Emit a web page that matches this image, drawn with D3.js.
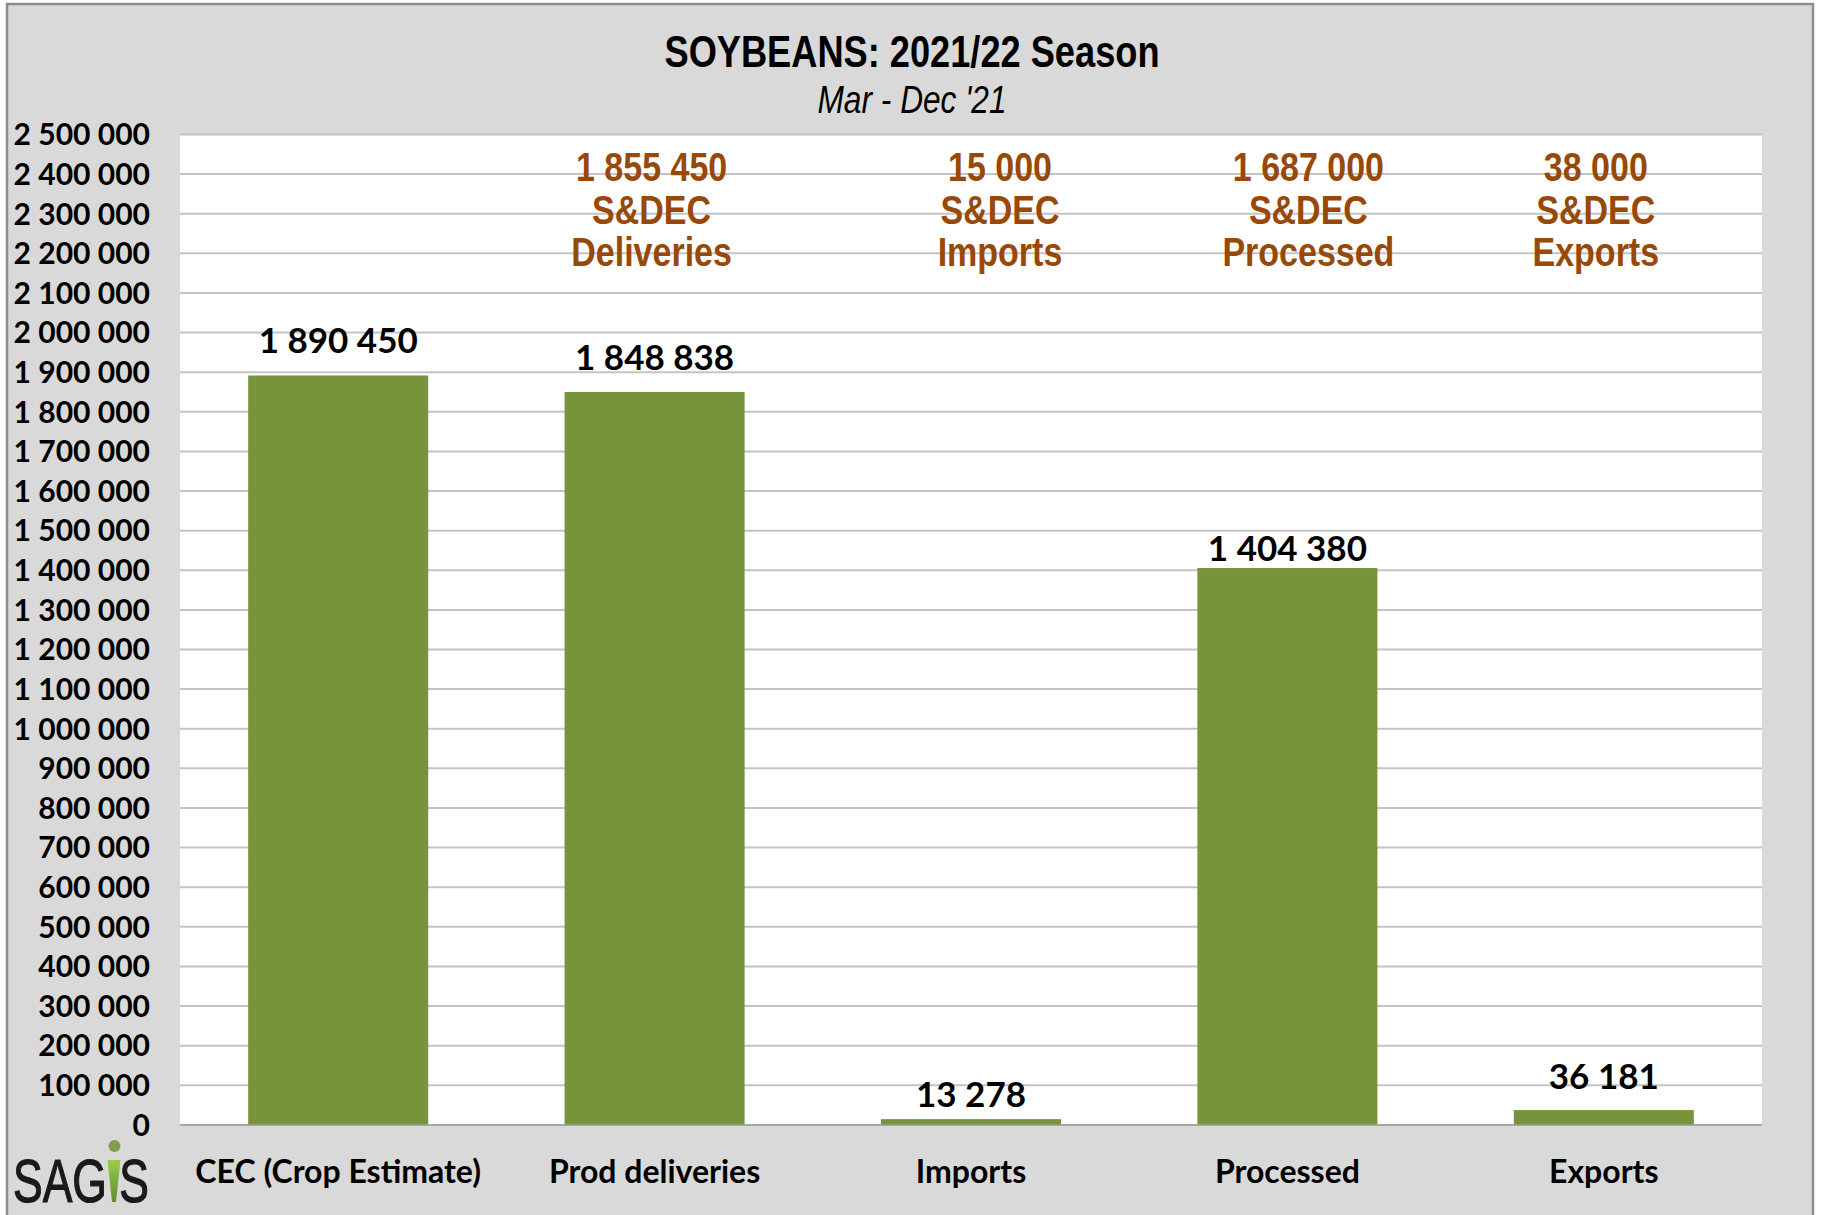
<!DOCTYPE html>
<html>
<head>
<meta charset="utf-8">
<script src="https://cdn.jsdelivr.net/npm/d3@7"></script>
<style>
  body { margin: 0; background: #ffffff; }
</style>
</head>
<body>
<script>
// ---------------------- data ---------------------
var categories = ["CEC (Crop Estimate)", "Prod deliveries", "Imports", "Processed", "Exports"];
var values = [1890450, 1848838, 13278, 1404380, 36181];

// brown S&DEC notes above the bars
var noteCategories = ["Prod deliveries", "Imports", "Processed", "Exports"];
var noteValues = [1855450, 15000, 1687000, 38000];
var noteNames = ["Deliveries", "Imports", "Processed", "Exports"];

var yTicks = [0, 100000, 200000, 300000, 400000, 500000, 600000, 700000, 800000, 900000,
              1000000, 1100000, 1200000, 1300000, 1400000, 1500000, 1600000, 1700000,
              1800000, 1900000, 2000000, 2100000, 2200000, 2300000, 2400000, 2500000];

// ---------------------- layout ---------------------
var W = 1825, H = 1215;
var plotLeft = 180, plotRight = 1762, plotTop = 134, plotBottom = 1124.4;
var narrow = "'Liberation Sans', Arial, sans-serif";   // squeezed below to look like Arial Narrow
var labelGap = [22, 22, 12, 7, 21];   // value label distance above bar top (as placed in the original)
var noteShift = [-3, 29, 21, -8];     // small horizontal nudge of the brown notes

var fmt = d3.formatLocale({ decimal: ".", thousands: " ", grouping: [3], currency: ["", ""] }).format(",");

var x = d3.scaleBand()
     .domain(categories)
     .range([plotLeft, plotRight])
     .paddingInner(0.431)
     .paddingOuter(0.2155);

var y = d3.scaleLinear()
     .domain([0, 2500000])
     .range([plotBottom, plotTop]);

var svg = d3.select("body")
     .append("svg")
     .attr("width", W)
     .attr("height", H);

// outer frame
svg.append("rect")
     .attr("x", 7)
     .attr("y", 4)
     .attr("width", 1806)
     .attr("height", H + 10)
     .style("fill", "#d9d9d9")
     .style("stroke", "#8c8c8c")
     .style("stroke-width", 2.5);

// plot area
svg.append("rect")
     .attr("x", plotLeft)
     .attr("y", plotTop)
     .attr("width", plotRight - plotLeft)
     .attr("height", plotBottom - plotTop)
     .style("fill", "#ffffff");

// ---------------------- grid + y axis ---------------------
var grid = svg.append("g")
     .attr("transform", "translate(" + plotLeft + ",0)")
     .call(d3.axisLeft(y).tickValues(yTicks).tickSize(-(plotRight - plotLeft)).tickFormat(""));
grid.select(".domain").remove();
grid.selectAll(".tick line")
     .style("stroke", function(d) { return d === 0 ? "#a6a6a6" : "#c4c4c4"; })
     .style("stroke-width", 2);

var yAxis = svg.append("g")
     .attr("transform", "translate(150,0)")
     .call(d3.axisLeft(y).tickValues(yTicks).tickSize(0).tickPadding(0).tickFormat(fmt));
yAxis.select(".domain").remove();
yAxis.selectAll("text")
     .attr("dy", "0.36em")
     .style("font-family", "Lato, sans-serif")
     .style("font-weight", "bold")
     .style("font-size", "30px")
     .style("fill", "#000");

// ---------------------- bars ---------------------
svg.selectAll("rect.bar")
     .data(values)
     .enter()
     .append("rect")
     .attr("class", "bar")
     .attr("x", function(d, i) { return x(categories[i]); })
     .attr("y", function(d) { return y(d); })
     .attr("width", x.bandwidth())
     .attr("height", function(d) { return y(0) - y(d); })
     .style("fill", "#77933c");

svg.selectAll("text.val")
     .data(values)
     .enter()
     .append("text")
     .attr("class", "val")
     .text(function(d) { return fmt(d); })
     .attr("x", function(d, i) { return x(categories[i]) + x.bandwidth() / 2; })
     .attr("y", function(d, i) { return y(d) - labelGap[i]; })
     .attr("text-anchor", "middle")
     .style("font-family", "Lato, sans-serif")
     .style("font-weight", "bold")
     .style("font-size", "35px")
     .style("fill", "#000");

// category labels
svg.selectAll("text.cat")
     .data(categories)
     .enter()
     .append("text")
     .attr("class", "cat")
     .text(function(d) { return d; })
     .attr("x", function(d) { return x(d) + x.bandwidth() / 2; })
     .attr("y", 1183)
     .attr("text-anchor", "middle")
     .style("font-family", "Lato, sans-serif")
     .style("font-weight", "bold")
     .style("font-size", "32px")
     .style("fill", "#000");

// ---------------------- S&DEC notes ---------------------
var notes = svg.selectAll("g.note")
     .data(noteValues)
     .enter()
     .append("g")
     .attr("class", "note")
     .attr("transform", function(d, i) {
          return "translate(" + (x(noteCategories[i]) + x.bandwidth() / 2 + noteShift[i]) + ",0) scale(0.85,1)";
     })
     .style("font-family", narrow)
     .style("font-weight", "bold")
     .style("font-size", "40px")
     .style("fill", "#984807")
     .attr("text-anchor", "middle");

notes.append("text").attr("y", 181).text(function(d) { return fmt(d); });
notes.append("text").attr("y", 224).text("S&DEC");
notes.append("text").attr("y", 266).text(function(d, i) { return noteNames[i]; });

// ---------------------- titles ---------------------
svg.append("text")
     .text("SOYBEANS: 2021/22 Season")
     .attr("x", 912)
     .attr("y", 67)
     .attr("text-anchor", "middle")
     .attr("textLength", 495)
     .attr("lengthAdjust", "spacingAndGlyphs")
     .style("font-family", narrow)
     .style("font-weight", "bold")
     .style("font-size", "45px")
     .style("fill", "#000");

svg.append("text")
     .text("Mar - Dec '21")
     .attr("x", 912)
     .attr("y", 113)
     .attr("text-anchor", "middle")
     .attr("textLength", 189)
     .attr("lengthAdjust", "spacingAndGlyphs")
     .style("font-family", narrow)
     .style("font-style", "italic")
     .style("font-size", "38px")
     .style("fill", "#000");

// ---------------------- SAGIS logo ---------------------
var grad = svg.append("defs").append("linearGradient")
     .attr("id", "igrad")
     .attr("x1", 0).attr("y1", 0).attr("x2", 0).attr("y2", 1);
grad.append("stop").attr("offset", "0%").attr("stop-color", "#9ccc4c");
grad.append("stop").attr("offset", "100%").attr("stop-color", "#5e8f2a");

svg.append("text")
     .text("SAGIS")
     .attr("x", 13)
     .attr("y", 1202)
     .attr("textLength", 136)
     .attr("lengthAdjust", "spacingAndGlyphs")
     .style("font-family", narrow)
     .style("font-size", "61px")
     .style("fill", "#1a1a1a")
     .style("stroke", "#1a1a1a")
     .style("stroke-width", 1.2);

// green "I" painted over the letter, with its dot
svg.append("path")
     .attr("d", "M107,1157 L121,1157 L117,1203 L109.5,1203 Z")
     .style("fill", "#d9d9d9");
svg.append("path")
     .attr("d", "M107.5,1160 L120.5,1160 L116,1202 L112,1202 Z")
     .style("fill", "url(#igrad)");
svg.append("circle")
     .attr("cx", 114.5)
     .attr("cy", 1146)
     .attr("r", 6)
     .style("fill", "#7f9e4e");
</script>
</body>
</html>
